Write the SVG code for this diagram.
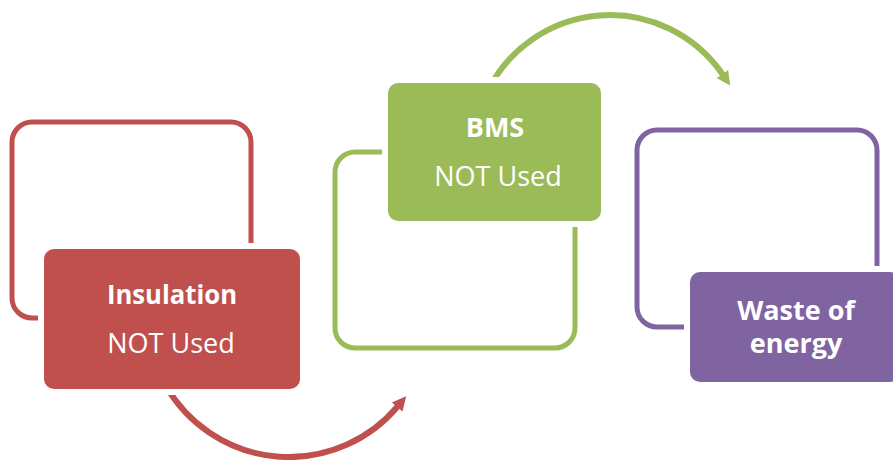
<svg xmlns="http://www.w3.org/2000/svg" width="893" height="460" viewBox="0 0 893 460">
  <defs>
    <style>
      .outline { fill: none; stroke-width: 5; }
      .halo { fill: #ffffff; }
      .flow { fill: none; stroke-width: 6; }
      .label { font-family: "Open Sans", "Liberation Sans", sans-serif; font-size: 27px; fill: #ffffff; text-anchor: middle; }
      .bold { font-weight: bold; }
      .red { stroke: #C0504D; }
      .green { stroke: #9BBB59; }
      .purple { stroke: #8064A2; }
    </style>
    <marker id="headRed" markerUnits="userSpaceOnUse" markerWidth="20" markerHeight="20" refX="1" refY="8" orient="auto">
      <path d="M0,1 L14,8 L0,15 Z" fill="#C0504D"/>
    </marker>
    <marker id="headGreen" markerUnits="userSpaceOnUse" markerWidth="20" markerHeight="20" refX="1" refY="8" orient="auto">
      <path d="M0,1 L14,8 L0,15 Z" fill="#9BBB59"/>
    </marker>
  </defs>

  <rect width="893" height="460" fill="#ffffff"/>

  <!-- connectors -->
  <g id="connectors">
    <path class="flow red" d="M166,386 A142,142 0 0 0 397.8,406.3" marker-end="url(#headRed)"/>
    <path class="flow green" d="M486.3,93.8 A136.5,136.5 0 0 1 722.9,74.8" marker-end="url(#headGreen)"/>
  </g>

  <!-- step 1 -->
  <g id="insulation">
    <rect class="outline red" x="12" y="122" width="239" height="196" rx="20"/>
    <rect class="halo" x="38" y="243" width="268" height="152" rx="14"/>
    <rect x="44" y="249" width="256" height="140" rx="10" fill="#C0504D"/>
    <text class="label bold" x="172" y="304" textLength="130" lengthAdjust="spacingAndGlyphs">Insulation</text>
    <text class="label" x="171" y="353">NOT Used</text>
  </g>

  <!-- step 2 -->
  <g id="bms">
    <rect class="outline green" x="335" y="152" width="240" height="196" rx="20"/>
    <rect class="halo" x="382" y="77" width="225" height="150" rx="14"/>
    <rect x="388" y="83" width="213" height="138" rx="10" fill="#9BBB59"/>
    <text class="label bold" x="495" y="137">BMS</text>
    <text class="label" x="498" y="186">NOT Used</text>
  </g>

  <!-- step 3 -->
  <g id="waste">
    <rect class="outline purple" x="637" y="130" width="240" height="197" rx="20"/>
    <rect class="halo" x="684" y="266" width="222" height="122" rx="14"/>
    <rect x="690" y="272" width="210" height="110" rx="10" fill="#8064A2"/>
    <text class="label bold" x="796" y="320">Waste of</text>
    <text class="label bold" x="796" y="353">energy</text>
  </g>
</svg>
